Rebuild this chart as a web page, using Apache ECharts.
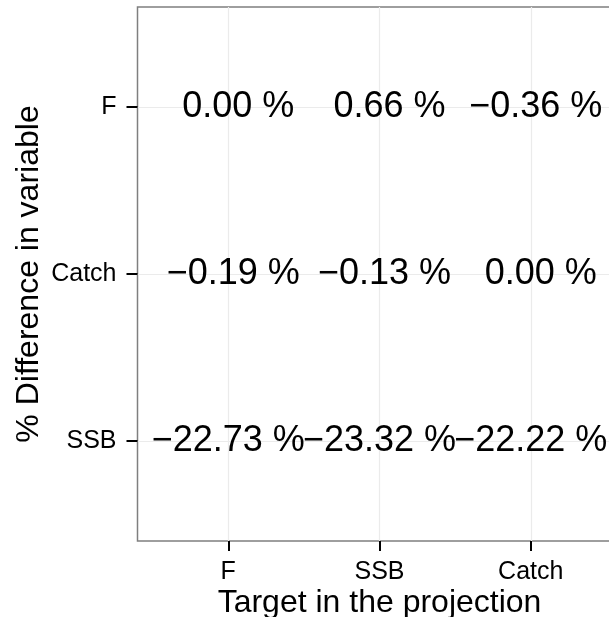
<!DOCTYPE html>
<html>
<head>
<meta charset="utf-8">
<script src="https://cdn.jsdelivr.net/npm/echarts@6/dist/echarts.min.js"></script>
<style>
html,body{margin:0;padding:0;background:#fff;}
#c{width:609px;height:617px;}
</style>
</head>
<body>
<div id="c"></div>
<script>
// Categories
const targets = ['F', 'SSB', 'Catch'];          // x axis, left to right
const variables = ['SSB', 'Catch', 'F'];        // y axis, bottom to top
// % difference in each variable (row) for each target (column)
const diffSSB = [-22.73, -23.32, -22.22];
const diffCatch = [-0.19, -0.13, 0.00];
const diffF = [0.00, 0.66, -0.36];
const rows = { SSB: diffSSB, Catch: diffCatch, F: diffF };

const tickIdx = [0, 1, 2];
const FONT = "'Liberation Sans', Arial, Helvetica, sans-serif";

const data = [];
variables.forEach((v, yi) => {
  rows[v].forEach((val, xi) => data.push([xi, yi, val]));
});

// fixed-width number (like sprintf("%6.2f %%")), with a true minus sign
function fmt(v) {
  return v.toFixed(2).replace('-', '\u2212').padStart(6, ' ') + ' %';
}

const chart = echarts.init(document.getElementById('c'), null, { renderer: 'canvas' });
chart.setOption({
  animation: false,
  backgroundColor: '#ffffff',
  grid: {
    left: 137.5, top: 7, right: -12.5, bottom: 76,
    outerBoundsMode: 'none',
    show: true, borderColor: '#7f7f7f', borderWidth: 1.5, backgroundColor: '#ffffff',
    containLabel: false
  },
  xAxis: {
    type: 'value', min: -0.6, max: 2.6,
    name: 'Target in the projection', nameLocation: 'middle', nameGap: 46, nameMoveOverlap: false,
    nameTextStyle: { fontFamily: FONT, fontSize: 32, color: '#000' },
    axisLine: { show: false, onZero: false },
    axisTick: { show: true, customValues: tickIdx, length: 10, lineStyle: { color: '#000', width: 2 } },
    axisLabel: { customValues: tickIdx, margin: 19, fontFamily: FONT, fontSize: 25, color: '#000',
      formatter: v => targets[Math.round(v)] },
    splitLine: { show: true, lineStyle: { color: '#ebebeb', width: 1.2 } }
  },
  yAxis: {
    type: 'value', min: -0.6, max: 2.6,
    name: '% Difference in variable', nameLocation: 'middle', nameGap: 92, nameRotate: 90, nameMoveOverlap: false,
    nameTextStyle: { fontFamily: FONT, fontSize: 32, color: '#000' },
    axisLine: { show: false, onZero: false },
    axisTick: { show: true, customValues: tickIdx, length: 11, lineStyle: { color: '#000', width: 2 } },
    axisLabel: { customValues: tickIdx, margin: 21, fontFamily: FONT, fontSize: 25, color: '#000',
      formatter: v => variables[Math.round(v)] },
    splitLine: { show: true, lineStyle: { color: '#ebebeb', width: 1.2 } }
  },
  series: [{
    type: 'scatter',
    data: data,
    symbolSize: 1,
    itemStyle: { color: 'rgba(0,0,0,0)', opacity: 1 },
    clip: false,
    label: {
      show: true, position: 'inside',
      fontFamily: FONT, fontSize: 36, color: '#000000',
      formatter: p => fmt(p.value[2])
    },
    labelLayout: { hideOverlap: false },
    z: 10
  }]
});
</script>
</body>
</html>
